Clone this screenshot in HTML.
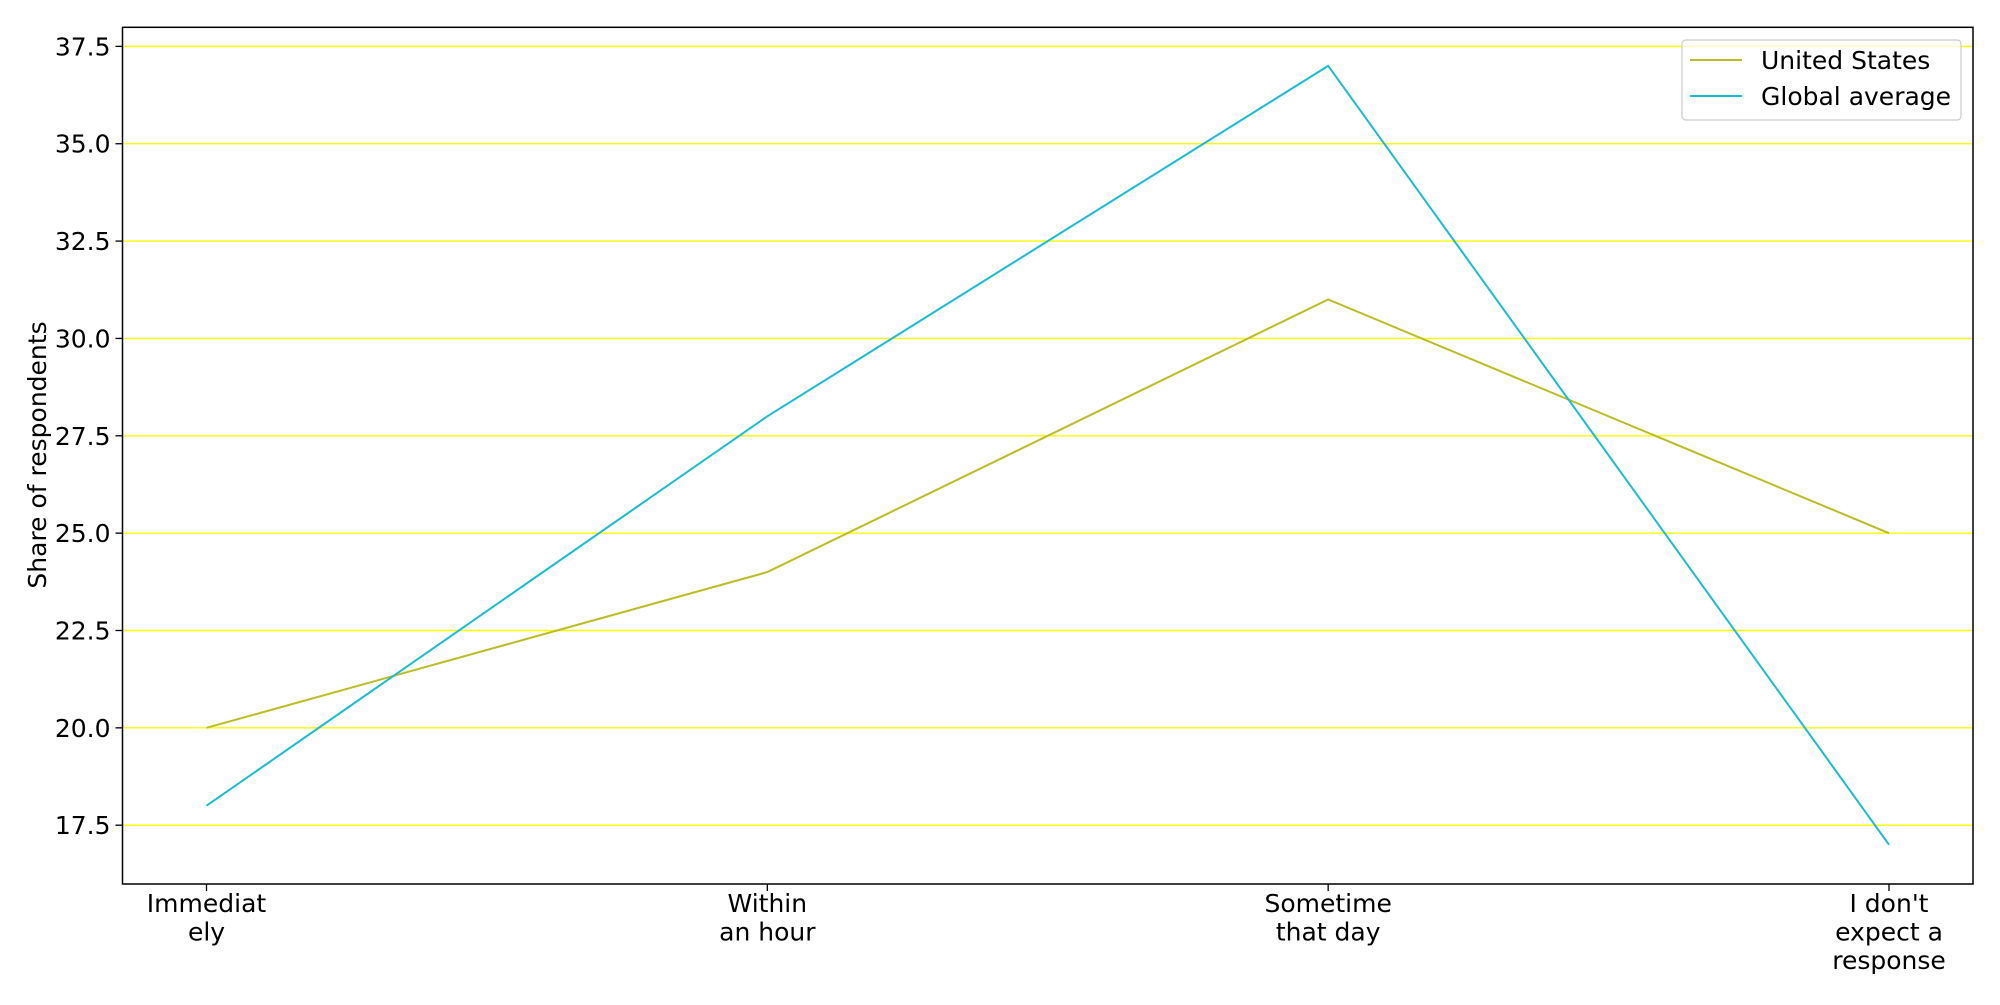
<!DOCTYPE html>
<html><head><meta charset="utf-8"><style>
html,body{margin:0;padding:0;background:#fff;}
svg text{font-family:"DejaVu Sans","Liberation Sans",sans-serif;fill:#000;}
</style></head><body>
<svg id="chart" width="2000" height="1000" viewBox="0 0 2000 1000" xmlns="http://www.w3.org/2000/svg">
<g id="grid"></g>
<g id="series"></g>
<rect x="122.5" y="27.3" width="1850.5" height="856.7" fill="none" stroke="#000" stroke-width="1.5"/>
<g id="yticks"></g>
<g id="xticks"></g>
<text transform="translate(46,455) rotate(-90)" text-anchor="middle" font-size="25">Share of respondents</text>
<g>
<rect x="1682" y="40" width="279" height="80" rx="4" fill="#fff" fill-opacity="0.8" stroke="#ccc" stroke-width="1.2"/>
<line x1="1690" y1="60" x2="1742" y2="60" stroke="#bcbd22" stroke-width="2"/>
<text x="1761" y="69" font-size="25">United States</text>
<line x1="1690" y1="96" x2="1742" y2="96" stroke="#17becf" stroke-width="2"/>
<text x="1761" y="105" font-size="25">Global average</text>
</g>
</svg>
<script>
const categories = [["Immediat","ely"],["Within","an hour"],["Sometime","that day"],["I don't","expect a","response"]];
const usValues = [20, 24, 31, 25];
const globalValues = [18, 28, 37, 17];
const yTicks = [17.5, 20.0, 22.5, 25.0, 27.5, 30.0, 32.5, 35.0, 37.5];

const NS = "http://www.w3.org/2000/svg";
const L = 122.5, R = 1973, T = 27.3, B = 884;
const yMin = 15.99, yMax = 37.99;
const x0 = 206.5, x1 = 1889;
function xs(i){ return x0 + (x1 - x0) * i / (categories.length - 1); }
function ys(v){ return B - (v - yMin) / (yMax - yMin) * (B - T); }
function mk(tag, attrs, parent){ const e = document.createElementNS(NS, tag); for (const k in attrs) e.setAttribute(k, attrs[k]); parent.appendChild(e); return e; }

const grid = document.getElementById('grid');
const yt = document.getElementById('yticks');
yTicks.forEach(v => {
  const y = ys(v);
  const g = mk('line', {x1:L, x2:R, y1:y, y2:y, stroke:'#ffff00', 'stroke-width':1.4}, grid);
  
  
  const t = mk('line', {x1:L-7, x2:L, y1:y, y2:y, stroke:'#000', 'stroke-width':1.3}, yt);
  
  
  const lb = mk('text', {x:L-12, y:y+9, 'text-anchor':'end', 'font-size':25}, yt);
  lb.textContent = v.toFixed(1);
  
  
});

const xt = document.getElementById('xticks');
categories.forEach((c, i) => {
  const x = xs(i);
  const t = mk('line', {x1:x, x2:x, y1:B, y2:B+7, stroke:'#000', 'stroke-width':1.3}, xt);
  
  
  c.forEach((line, j) => {
    const lb = mk('text', {x:x, y:912 + j*28.5, 'text-anchor':'middle', 'font-size':25}, xt);
    lb.textContent = line;
    
    
  });
});

const ser = document.getElementById('series');
[[usValues, '#bcbd22', 'us-line'], [globalValues, '#17becf', 'global-line']].forEach(([vals, col, name]) => {
  const pts = vals.map((v, i) => xs(i) + ',' + ys(v)).join(' ');
  const p = mk('polyline', {points:pts, fill:'none', stroke:col, 'stroke-width':2}, ser);
  
  
});
</script>
</body></html>
